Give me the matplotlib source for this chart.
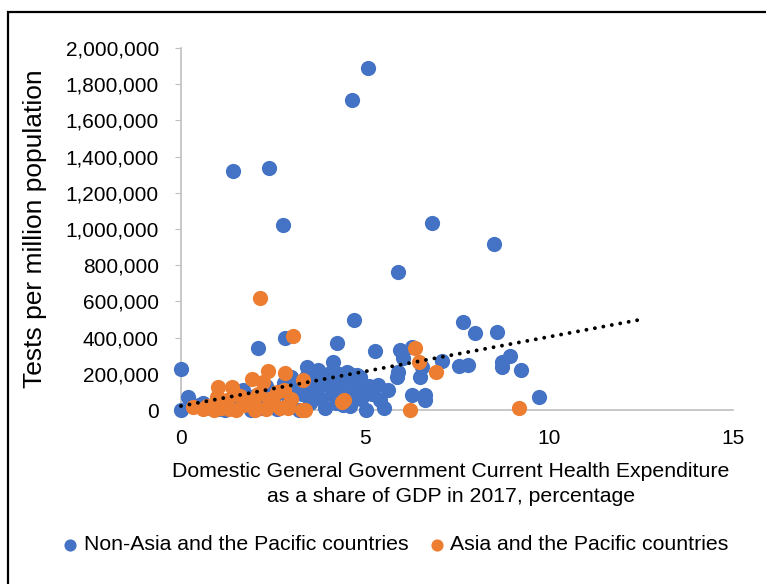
import matplotlib
matplotlib.use('Agg')
import numpy as np
from matplotlib import pyplot as plt
from matplotlib.patches import Rectangle
from matplotlib.ticker import FuncFormatter

plt.rcParams['font.family'] = ['Liberation Sans', 'DejaVu Sans']

# health expenditure (% of GDP), tests per million population
blue_x = [5.08, 4.65, 1.41, 2.39, 2.77, 6.82, 8.5, 5.9, 4.7, 7.66, 7.99, 8.59, 8.94, 8.72, 8.72,
          9.24, 7.55, 7.8, 7.09, 9.73, 2.83, 2.09, 4.24, 0.0, 0.19, 0.0, 5.27, 5.95, 6.28, 6.03,
          5.9, 5.87, 6.49, 6.55, 5.35, 5.63, 6.28, 6.63, 6.63, 5.41, 5.03, 5.52, 4.59, 4.86, 4.95,
          3.42, 3.72, 4.13, 4.51, 4.78, 1.68, 4.13, 0.6,
          0.5, 0.8, 1.0, 1.3, 1.5, 1.8, 2.0, 2.2, 2.5, 2.7, 2.9, 3.0, 3.1, 3.3, 3.5, 3.6, 3.7,
          3.8, 3.9, 4.0, 4.1, 4.2, 4.3, 4.4, 4.5, 4.6, 4.7, 4.8, 3.2, 2.6, 1.9, 3.4, 4.0, 4.2,
          4.5, 3.9, 4.9, 5.1, 4.4, 3.6, 2.3, 2.8, 1.2, 5.2, 3.0, 3.5, 4.3, 4.7]
blue_y = [1890000, 1710000, 1320000, 1335000, 1020000, 1035000, 915000, 765000, 500000, 485000,
          425000, 430000, 300000, 265000, 240000, 220000, 245000, 250000, 270000, 72000,
          400000, 345000, 372000, 225000, 72000, 0, 325000, 330000, 350000, 290000,
          210000, 180000, 180000, 240000, 140000, 110000, 83000, 83000, 55000, 55000, 0, 10000,
          200000, 180000, 94000, 240000, 220000, 265000, 210000, 195000, 110000, 180000, 39000,
          30000, 10000, 5000, 20000, 60000, 30000, 80000, 10000, 50000, 100000, 70000, 20000,
          130000, 90000, 40000, 150000, 110000, 60000, 10000, 140000, 90000, 40000, 160000,
          120000, 70000, 20000, 150000, 110000, 0, 5000, 0, 180000, 200000, 110000, 160000,
          170000, 60000, 130000, 30000, 80000, 130000, 150000, 0, 90000, 180000, 120000,
          200000, 60000]

orange_x = [2.15, 3.04, 1.0, 1.39, 1.93, 2.23, 2.36, 2.83, 3.32, 4.38, 3.37, 1.87, 1.25, 0.98,
            0.6, 0.33, 6.36, 6.47, 6.93, 6.22, 4.43, 9.18,
            0.7, 1.1, 1.5, 1.7, 2.0, 2.3, 2.5, 2.7, 2.9, 0.9, 1.3, 2.1, 2.6, 2.4, 2.8, 2.0,
            1.6, 3.0, 2.9, 3.3]
orange_y = [620000, 410000, 127000, 127000, 170000, 155000, 215000, 205000, 166000, 44000, 0,
            55000, 55000, 72000, 5000, 15000, 340000, 265000, 210000, 0, 55000, 10000,
            20000, 10000, 0, 30000, 20000, 5000, 40000, 10000, 25000, 0, 5000, 90000, 100000,
            60000, 110000, 0, 80000, 60000, 10000, 0]

# linear trendline end points
trend_x = [0, 12.5]
trend_y = [22000, 500000]

fig = plt.figure(figsize=(7.66, 5.84), dpi=100)
ax = fig.add_axes([181 / 766, 1 - 410 / 584, 552 / 766, 362 / 584])

ax.scatter(blue_x, blue_y, s=120, color='#4472C4', linewidths=0, clip_on=False, zorder=3,
           label='Non-Asia and the Pacific countries')
ax.scatter(orange_x, orange_y, s=120, color='#ED7D31', linewidths=0, clip_on=False, zorder=4,
           label='Asia and the Pacific countries')
ax.plot(trend_x, trend_y, color='black', linewidth=2.8, dashes=(0.01, 2.2),
        dash_capstyle='round', zorder=5, clip_on=False)

ax.set_xlim(0, 15)
ax.set_ylim(0, 2000000)
ax.set_xticks([0, 5, 10, 15])
ax.set_yticks(np.arange(0, 2000001, 200000))
ax.yaxis.set_major_formatter(FuncFormatter(lambda v, p: f'{int(v):,}'))

for s in ['top', 'right']:
    ax.spines[s].set_visible(False)
ax.spines['left'].set_color('#BFBFBF')
ax.spines['bottom'].set_color('#BFBFBF')
ax.spines['left'].set_linewidth(1.2)
ax.spines['bottom'].set_linewidth(1.2)
ax.tick_params(axis='y', direction='out', length=4, color='#BFBFBF', labelsize=15, pad=12)
ax.tick_params(axis='x', length=0, labelsize=15, pad=14)

ax.set_ylabel('Tests per million population', fontsize=19)
ax.yaxis.set_label_coords(-0.243, 0.5)
ax.set_xlabel('Domestic General Government Current Health Expenditure\n'
              'as a share of GDP in 2017, percentage', fontsize=15.3, linespacing=1.35)
ax.xaxis.set_label_coords(0.489, -0.145)
ax.xaxis.label.set_va('top')

fig.legend(loc='center', bbox_to_anchor=(0.516, 1 - 545 / 584), ncol=2, frameon=False,
           fontsize=15.3, handlelength=0.8, handletextpad=0.23, columnspacing=0.95,
           markerscale=0.8)

fig.patches.append(Rectangle((8 / 766, -0.1), 1.1, 1 - 12 / 584 + 0.1,
                             transform=fig.transFigure, fill=False, edgecolor='black',
                             linewidth=1.6))

fig.savefig('out.png', dpi=100)
